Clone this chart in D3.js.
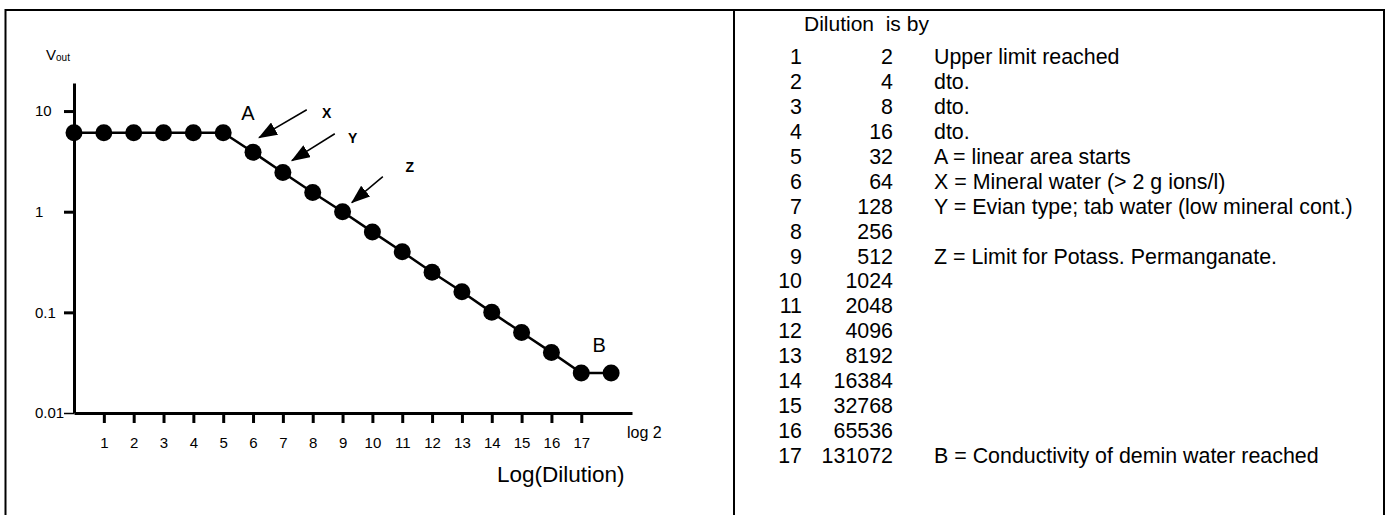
<!DOCTYPE html>
<html>
<head>
<meta charset="utf-8">
<script src="https://cdn.jsdelivr.net/npm/d3@7"></script>
<style>
  html, body { margin: 0; padding: 0; background: #fff; }
  svg { display: block; font-family: "Liberation Sans", Arial, Helvetica, sans-serif; }
</style>
</head>
<body>
<svg id="chart" width="1391" height="515"></svg>
<script>
// ---- Data ----
const steps = [0, 1, 2, 3, 4, 5, 6, 7, 8, 9, 10, 11, 12, 13, 14, 15, 16, 17, 18];
const vout  = [6.1, 6.1, 6.1, 6.1, 6.1, 6.1, 3.9, 2.45, 1.55, 1.0, 0.63, 0.4, 0.25, 0.16, 0.1, 0.063, 0.04, 0.025, 0.025];
const xTicks = [1, 2, 3, 4, 5, 6, 7, 8, 9, 10, 11, 12, 13, 14, 15, 16, 17];
const yTicks = [0.01, 0.1, 1, 10];
const yTickLabels = ["0.01", "0.1", "1", "10"];

// point labels (data coordinates)
const letterLabels = [
  { text: "A", x: 5.83, v: 9.6,   bold: false },
  { text: "X", x: 8.47, v: 9.6,   bold: true },
  { text: "Y", x: 9.34, v: 5.44,  bold: true },
  { text: "Z", x: 11.25, v: 2.8,  bold: true },
  { text: "B", x: 17.6, v: 0.047, bold: false }
];
// arrows: tail -> tip (data coordinates)
const arrows = [
  { x1: 7.8,  v1: 10.3, x2: 6.2,  v2: 5.44 },
  { x1: 8.74, v1: 5.95, x2: 7.3,  v2: 3.21 },
  { x1: 10.35, v1: 2.23, x2: 9.31, v2: 1.23 }
];

// table
const tableTitle = "Dilution  is by";
const tableStep = [1, 2, 3, 4, 5, 6, 7, 8, 9, 10, 11, 12, 13, 14, 15, 16, 17];
const tableDilution = [2, 4, 8, 16, 32, 64, 128, 256, 512, 1024, 2048, 4096, 8192, 16384, 32768, 65536, 131072];
const tableNote = [
  "Upper limit reached", "dto.", "dto.", "dto.",
  "A = linear area starts",
  "X = Mineral water (> 2 g ions/l)",
  "Y = Evian type; tab water (low mineral cont.)",
  "",
  "Z = Limit for Potass. Permanganate.",
  "", "", "", "", "", "", "",
  "B = Conductivity of demin water reached"
];

// ---- Drawing ----
const svg = d3.select("#chart");

// frame
svg.append("rect").attr("x", 5.5).attr("y", 10).attr("width", 1378.5).attr("height", 520)
  .attr("fill", "none").attr("stroke", "#000").attr("stroke-width", 2);
svg.append("line").attr("x1", 734).attr("x2", 734).attr("y1", 10).attr("y2", 515)
  .attr("stroke", "#000").attr("stroke-width", 2);

const x = d3.scaleLinear().domain([0, 18.7]).range([74, 632]);
const y = d3.scaleLog().domain([0.01, 19]).range([413, 83]);

// axes
const xAxis = svg.append("g").attr("transform", "translate(0,413)")
  .call(d3.axisBottom(x).tickValues(xTicks).tickSizeInner(10).tickSizeOuter(0).tickPadding(14));
xAxis.select(".domain").attr("stroke-width", 3);
xAxis.selectAll(".tick line").attr("stroke-width", 3);
xAxis.selectAll("text").attr("font-size", 15).attr("font-family", "Liberation Sans, Arial, sans-serif").attr("fill", "#000");

const yAxis = svg.append("g").attr("transform", "translate(74,0)")
  .call(d3.axisLeft(y).tickValues(yTicks).tickFormat((d, i) => yTickLabels[i]).tickSizeInner(10).tickSizeOuter(0).tickPadding(10));
yAxis.select(".domain").attr("stroke-width", 3);
yAxis.selectAll(".tick line").attr("stroke-width", (d) => d === 0.01 ? 1.5 : 3);
yAxis.selectAll("text").attr("font-size", 15).attr("font-family", "Liberation Sans, Arial, sans-serif")
  .attr("fill", "#000").attr("text-anchor", "start").attr("x", -39);

// line + dots
const pts = steps.map((s, i) => ({ s, v: vout[i] }));
svg.append("path").datum(pts)
  .attr("d", d3.line().x(d => x(d.s)).y(d => y(d.v)))
  .attr("fill", "none").attr("stroke", "#000").attr("stroke-width", 2.5);
svg.selectAll("circle.pt").data(pts).enter().append("circle").attr("class", "pt")
  .attr("cx", d => x(d.s)).attr("cy", d => y(d.v)).attr("r", 8.5).attr("fill", "#000");

// arrows
svg.append("defs").append("marker").attr("id", "ah")
  .attr("markerUnits", "userSpaceOnUse").attr("markerWidth", 19).attr("markerHeight", 14)
  .attr("refX", 18).attr("refY", 7).attr("orient", "auto")
  .append("path").attr("d", "M0,0 L19,7 L0,14 Z").attr("fill", "#000");
svg.selectAll("line.arrow").data(arrows).enter().append("line").attr("class", "arrow")
  .attr("x1", d => x(d.x1)).attr("y1", d => y(d.v1))
  .attr("x2", d => x(d.x2)).attr("y2", d => y(d.v2))
  .attr("stroke", "#000").attr("stroke-width", 1.5).attr("marker-end", "url(#ah)");

// letter labels
svg.selectAll("text.letter").data(letterLabels).enter().append("text").attr("class", "letter")
  .attr("x", d => x(d.x)).attr("y", d => y(d.v)).attr("text-anchor", "middle").attr("dominant-baseline", "central")
  .attr("font-size", d => d.bold ? 14 : 20).attr("font-weight", d => d.bold ? "bold" : "normal")
  .text(d => d.text);

// axis titles
const vlab = svg.append("text").attr("x", 46).attr("y", 60).attr("font-size", 15);
vlab.append("tspan").text("V");
vlab.append("tspan").attr("font-size", 10).attr("dy", 1).text("out");
svg.append("text").attr("x", 627).attr("y", 438).attr("font-size", 16).text("log 2");
svg.append("text").attr("x", 497).attr("y", 482).attr("font-size", 22.5).text("Log(Dilution)");

// table
const t = svg.append("g");
t.append("text").attr("x", 804).attr("y", 31).attr("font-size", 21).attr("xml:space", "preserve").style("white-space", "pre").text(tableTitle);
const rowY = d3.scaleLinear().domain([1, 17]).range([64, 463]);
const rows = tableStep.map((s, i) => ({ s, d: tableDilution[i], n: tableNote[i] }));
const rg = t.selectAll("g.row").data(rows).enter().append("g").attr("class", "row")
  .attr("transform", d => `translate(0,${rowY(d.s)})`).attr("font-size", 21.4);
rg.append("text").attr("x", 802).attr("text-anchor", "end").text(d => d.s);
rg.append("text").attr("x", 893).attr("text-anchor", "end").text(d => d.d);
rg.append("text").attr("x", 934).text(d => d.n);
</script>
</body>
</html>
